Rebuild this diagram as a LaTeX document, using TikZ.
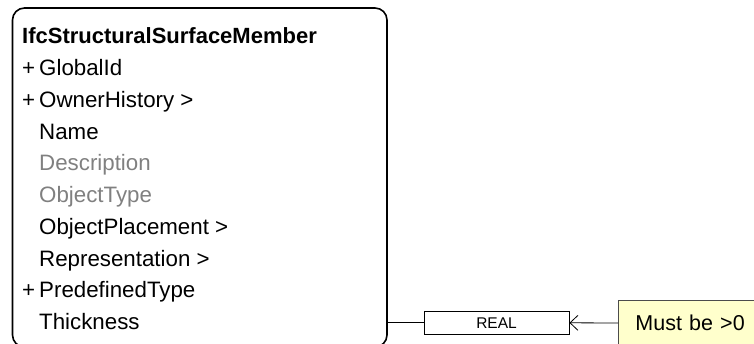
\documentclass[tikz,border=0pt]{standalone}
\usepackage{fontspec}
\setmainfont{Liberation Sans}
\usetikzlibrary{positioning,arrows.meta}
\usepackage{xcolor}
\definecolor{notecolor}{RGB}{255,255,204}
\definecolor{optcolor}{RGB}{128,128,128}

\begin{document}
\begin{tikzpicture}[
    x=1pt, y=-1pt,
    entity/.style={draw, line width=1.6pt, rounded corners=12pt, minimum width=374.5pt, minimum height=339pt, inner sep=0pt},
    attr/.style={anchor=base west, inner sep=0pt, font=\fontsize{22.3}{26}\selectfont},
    optional/.style={attr, text=optcolor},
    typebox/.style={draw, line width=0.8pt, minimum width=145pt, minimum height=22.5pt, inner sep=0pt, font=\fontsize{15.5}{18}\selectfont},
    note/.style={draw=black!70, line width=0.8pt, fill=notecolor, anchor=west, minimum height=46pt, text width=150pt, inner xsep=17pt, inner ysep=0pt, align=left, font=\fontsize{21.5}{26}\selectfont},
    link/.style={line width=0.8pt}
]
    \useasboundingbox (0,0) rectangle (754,344);
    \clip (0,0) rectangle (754,344);

    \node[entity] (member) at (199.75,177.5) {};

    \node[attr, font=\fontsize{22}{26}\selectfont\bfseries] (title) at (22,43.5) {IfcStructuralSurfaceMember};
    \node[attr] (plus1) at (22,75.7) {+};
    \node[attr] (globalid) at (39,75.7) {GlobalId};
    \node[attr] (plus2) at (22,107.4) {+};
    \node[attr] (ownerhistory) at (39,107.4) {OwnerHistory >};
    \node[attr] (name) at (39,139.1) {Name};
    \node[optional] (description) at (39,170.8) {Description};
    \node[optional] (objecttype) at (39,202.5) {ObjectType};
    \node[attr] (placement) at (39,234.2) {ObjectPlacement >};
    \node[attr] (representation) at (39,266.5) {Representation >};
    \node[attr] (plus3) at (22,298) {+};
    \node[attr] (predefined) at (39,298) {PredefinedType};
    \node[attr] (thickness) at (39,329.3) {Thickness};

    \node[typebox] (real) at (496.5,322.8) {REAL};
    \node[note] (rule) at (618,323) {Must be >0};

    \draw[link] (member.east |- real.west) -- (real.west);
    \draw[link, -{Straight Barb[length=8pt, width=15pt, line width=0.8pt]}] (rule.west) -- (real.east);
\end{tikzpicture}
\end{document}
